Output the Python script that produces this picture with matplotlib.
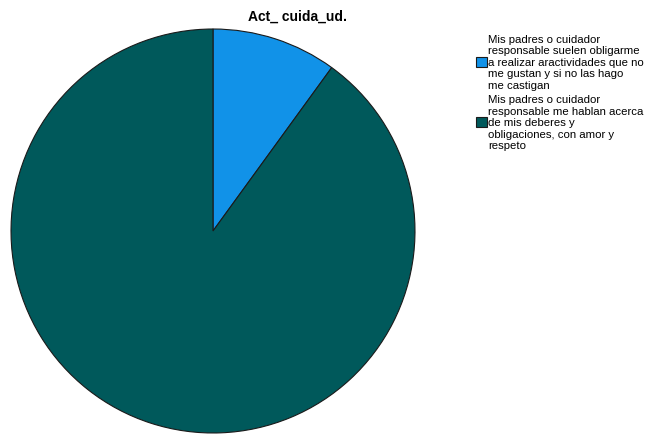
import matplotlib.pyplot as plt

plt.rcParams['font.family'] = ['Liberation Sans', 'DejaVu Sans']

# Datos del gráfico
categorias = [
    'Mis padres o cuidador\nresponsable suelen obligarme\na realizar aractividades que no\nme gustan y si no las hago\nme castigan',
    'Mis padres o cuidador\nresponsable me hablan acerca\nde mis deberes y\nobligaciones, con amor y\nrespeto',
]
porcentajes = [10, 90]
colores = ['#1192e8', '#00595b']

fig = plt.figure(figsize=(6.47, 4.35), dpi=100)
ax = fig.add_axes([10 / 647, 0, 406 / 647, 406 / 435])

cunas, _ = ax.pie(porcentajes, colors=colores, startangle=90, counterclock=False,
                  radius=1, wedgeprops={'edgecolor': '#1a1a1a', 'linewidth': 0.8})
ax.set_xlim(-1.005, 1.005)
ax.set_ylim(-1.005, 1.005)
ax.set_aspect('equal')

fig.text(298 / 647, 1 - 17 / 435, 'Act_ cuida_ud.', ha='center', va='center',
         fontsize=10, fontweight='bold')

fig.legend(cunas, categorias, loc='upper left', bbox_to_anchor=(470 / 647, 1 - 29 / 435),
           frameon=False, fontsize=8.2, handlelength=0.95, handleheight=0.95,
           handletextpad=0.15, labelspacing=0.35, borderpad=0)

plt.savefig('out.png', dpi=100)
